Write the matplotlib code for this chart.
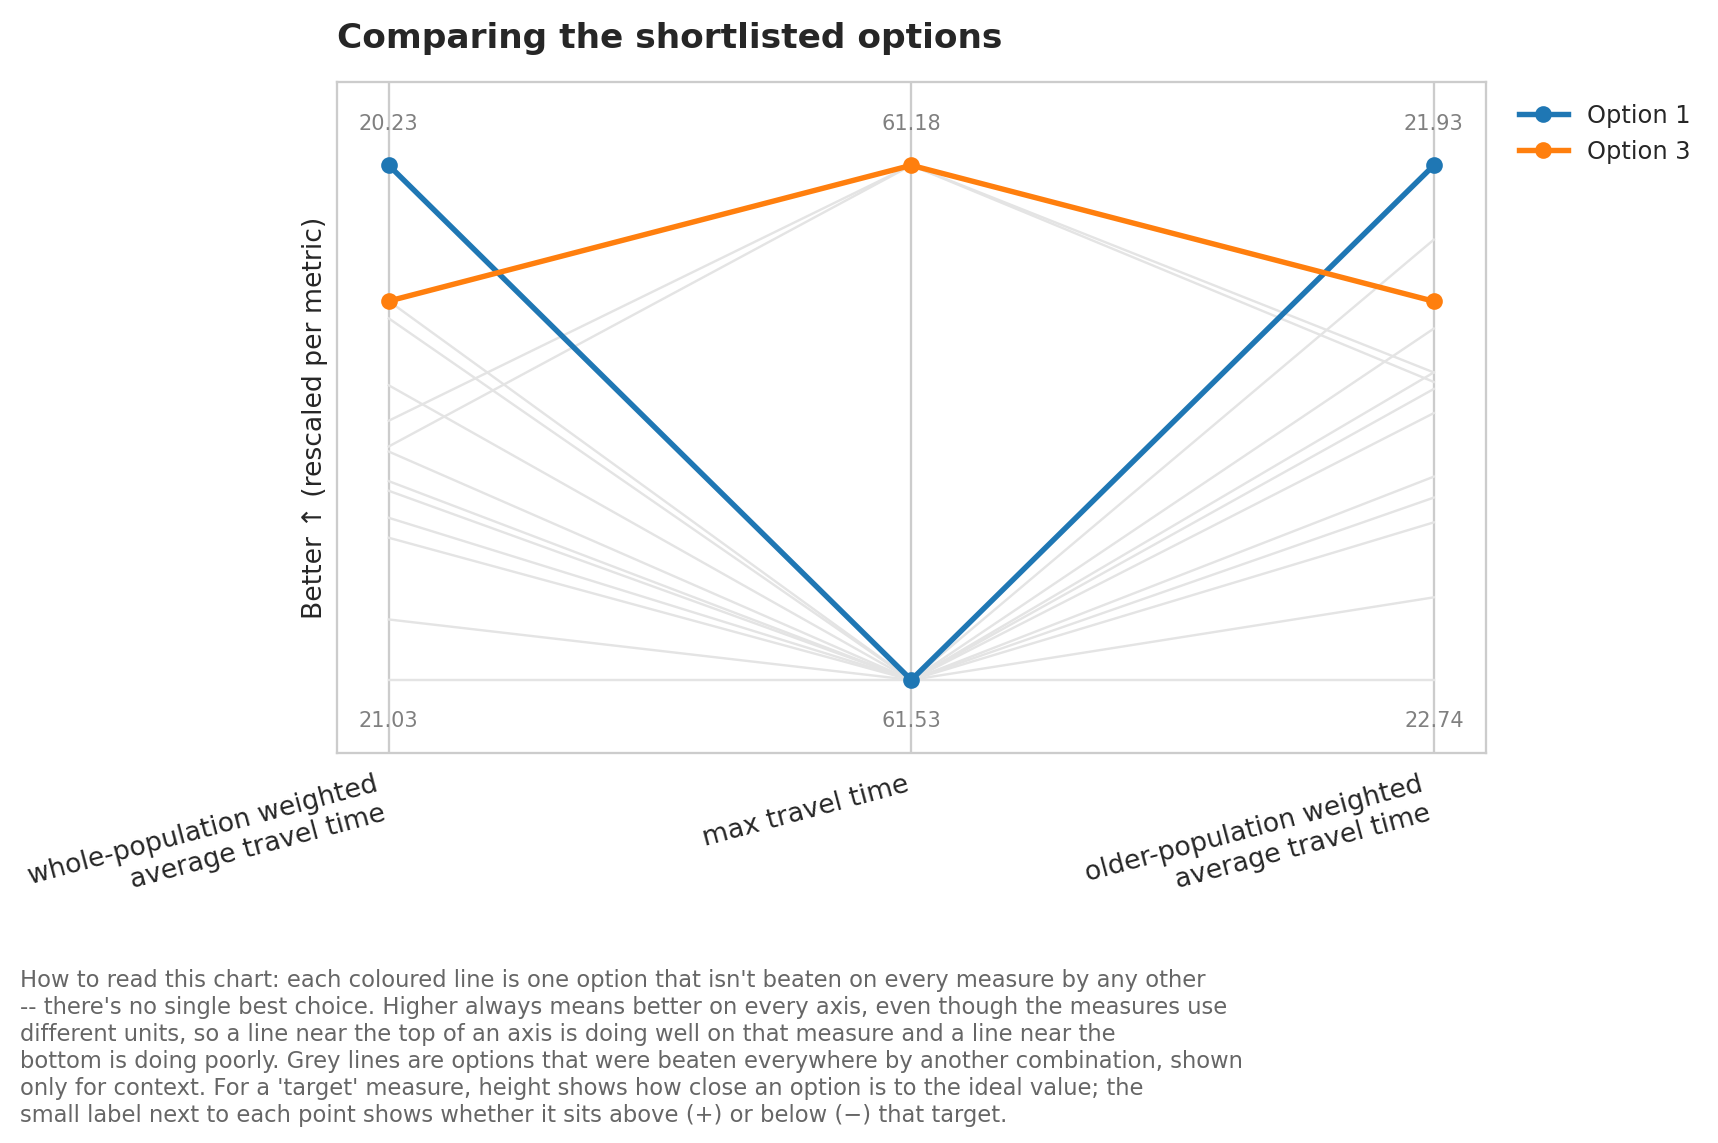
import matplotlib
matplotlib.use("Agg")
import matplotlib.pyplot as plt
import numpy as np

# ---- data ----
metrics = ["whole-population weighted\naverage travel time",
           "max travel time",
           "older-population weighted\naverage travel time"]

option_names = ["Option 1", "Option 3"]
option_colors = ["#1f77b4", "#ff7f0e"]
option_whole = [20.23, 20.441]
option_max = [61.53, 61.18]
option_older = [21.93, 22.144]

grey_whole = [20.627, 20.667, 20.441, 20.468, 20.572, 20.675, 20.721, 20.736, 20.778, 20.809, 20.936, 21.03]
grey_max = [61.18, 61.18, 61.53, 61.53, 61.53, 61.53, 61.53, 61.53, 61.53, 61.53, 61.53, 61.53]
grey_older = [22.256, 22.271, 22.047, 22.187, 22.256, 22.282, 22.320, 22.420, 22.453, 22.492, 22.610, 22.74]

title = "Comparing the shortlisted options"
ylabel = "Better \u2191 (rescaled per metric)"
caption = ("How to read this chart: each coloured line is one option that isn't beaten on every measure by any other\n"
           "-- there's no single best choice. Higher always means better on every axis, even though the measures use\n"
           "different units, so a line near the top of an axis is doing well on that measure and a line near the\n"
           "bottom is doing poorly. Grey lines are options that were beaten everywhere by another combination, shown\n"
           "only for context. For a 'target' measure, height shows how close an option is to the ideal value; the\n"
           "small label next to each point shows whether it sits above (+) or below (\u2212) that target.")

# ---- rescale (lower is better -> higher on chart) ----
cols_all = [np.array(option_whole + grey_whole),
            np.array(option_max + grey_max),
            np.array(option_older + grey_older)]
mins = [c.min() for c in cols_all]
maxs = [c.max() for c in cols_all]

def rescale(vals):
    return [(maxs[i] - v) / (maxs[i] - mins[i]) for i, v in enumerate(vals)]

plt.rcParams["font.family"] = ["DejaVu Sans"]
plt.rcParams["text.color"] = "#262626"

fig = plt.figure(figsize=(1718 / 150, 1143 / 150), dpi=150)
ax = fig.add_axes([0.1959, 0.3412, 0.865 - 0.1959, 0.9283 - 0.3412])

xs = np.arange(len(metrics))
for i in xs:
    ax.axvline(i, color="#cccccc", lw=1.1, zorder=1)

for gw, gm, go in zip(grey_whole, grey_max, grey_older):
    ax.plot(xs, rescale([gw, gm, go]), color="#e4e4e4", lw=1.15, zorder=2)

for name, col, w, m, o in zip(option_names, option_colors, option_whole, option_max, option_older):
    ax.plot(xs, rescale([w, m, o]), color=col, lw=2.6, marker="o", ms=7,
            label=name, zorder=4)

for i in xs:
    ax.text(i, 1.08, f"{mins[i]:.2f}", ha="center", va="center", color="#808080", fontsize=10)
    ax.text(i, -0.08, f"{maxs[i]:.2f}", ha="center", va="center", color="#808080", fontsize=10)

ax.set_xlim(-0.1, 2.1)
ax.set_ylim(-0.142, 1.162)
ax.set_yticks([])
ax.set_xticks(xs)
ax.set_xticklabels(metrics, rotation=15, ha="right", fontsize=12.8, color="#262626")
ax.tick_params(axis="x", length=0, pad=9)
for s in ax.spines.values():
    s.set_color("#cccccc")
    s.set_linewidth(1.1)
ax.set_ylabel(ylabel, fontsize=12.8, color="#262626")
ax.set_title(title, loc="left", fontsize=16.5, fontweight="bold", pad=16.5, color="#262626")

ax.legend(loc="upper left", bbox_to_anchor=(1.01, 1.0), frameon=False, fontsize=11.6)

fig.text(0.0116, 0.152, caption, ha="left", va="top", fontsize=10.85, color="#666666",
         linespacing=1.22)

fig.savefig("out.png", dpi=150)
